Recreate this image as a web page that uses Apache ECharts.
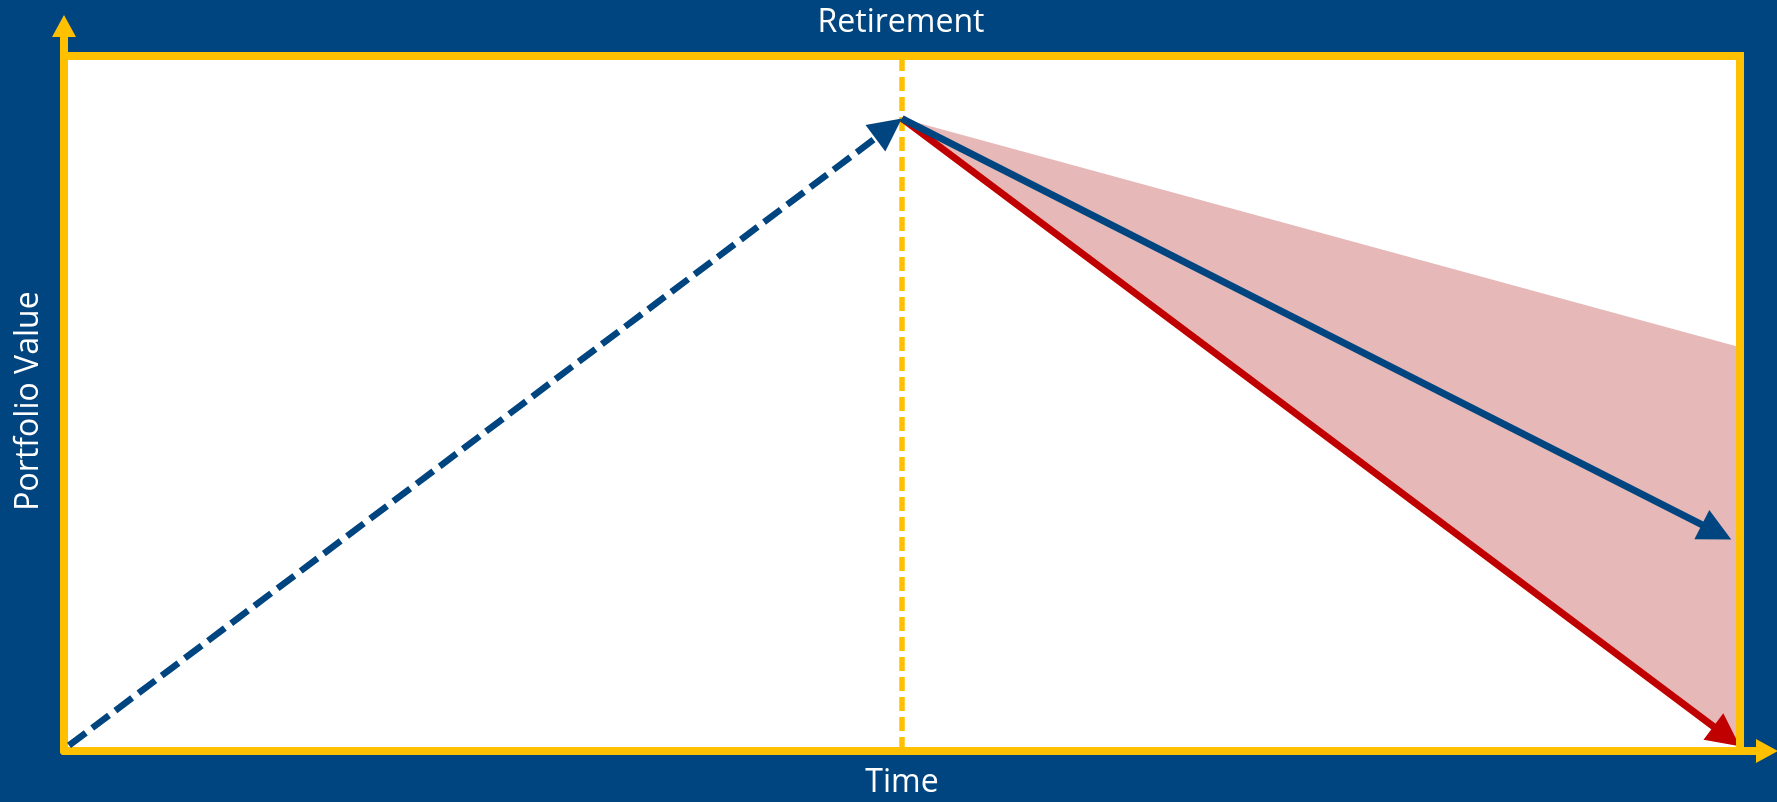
<!DOCTYPE html>
<html><head><meta charset="utf-8">
<script src="https://cdn.jsdelivr.net/npm/echarts@6/dist/echarts.min.js"></script>
<style>html,body{margin:0;padding:0;background:#00457F;}#c{width:1777px;height:802px;}</style>
</head><body><div id="c"></div>
<script>
// ---- data (chart units: time 0..100, value 0..100) ----
const retirementLine = [[50, 0], [50, 100]];
const accumulationPath = [[0.3, 0.8], [49.2, 89.6]];
const expectedPath = [[50, 91], [98.6, 31.5]];
const adversePath = [[50, 91], [99.2, 2.1]];
const rangeUpper = [[50, 91], [100, 58.1]];
const rangeLower = [[50, 91], [100, 0.7]];
const framePath = [[0, 100], [100, 100], [100, 0]];
const plotArea = [[0, 0], [100, 100]];
const axisTitles = ['Time', 'Portfolio Value'];
const eventTitles = ['Retirement'];

const NAVY = '#00457F', YELLOW = '#FFC000', RED = '#C00000', PINK = '#E6B8B7';
const FONT = '"Open Sans", sans-serif';

const chart = echarts.init(document.getElementById('c'), null, {renderer: 'canvas'});
const bandPolygon = rangeUpper.concat(rangeLower.slice().reverse());

const option = {
  backgroundColor: NAVY,
  animation: false,
  grid: {left: 64, right: 10, top: 26, bottom: 51, containLabel: false},
  xAxis: {
    type: 'value', min: 0, max: 101.61,
    axisLine: {show: true, symbol: ['none', 'triangle'], symbolSize: [24, 22],
      lineStyle: {color: YELLOW, width: 8, cap: 'round'}},
    axisTick: {show: false}, axisLabel: {show: false}, splitLine: {show: false}
  },
  yAxis: {
    type: 'value', min: 0, max: 104.32,
    axisLine: {show: true, symbol: ['none', 'triangle'], symbolSize: [24, 22],
      lineStyle: {color: YELLOW, width: 8, cap: 'round'}},
    axisTick: {show: false}, axisLabel: {show: false}, splitLine: {show: false}
  },
  graphic: [
    {type: 'text', x: 901, y: 22.5, z: 100,
      style: {text: eventTitles[0], fill: '#fff', font: '32px ' + FONT, textAlign: 'center', textVerticalAlign: 'middle'}},
    {type: 'text', x: 902, y: 783, z: 100,
      style: {text: axisTitles[0], fill: '#fff', font: '32px ' + FONT, textAlign: 'center', textVerticalAlign: 'middle'}},
    {type: 'text', x: 28.5, y: 401, rotation: Math.PI / 2, z: 100,
      style: {text: axisTitles[1], fill: '#fff', font: '32px ' + FONT, textAlign: 'center', textVerticalAlign: 'middle'}}
  ],
  series: [
    {type: 'custom', z: -1, silent: true, data: [0],
      renderItem: (params, api) => {
        const a = api.coord(plotArea[0]), b = api.coord(plotArea[1]);
        return {type: 'rect', shape: {x: a[0], y: b[1], width: b[0] - a[0], height: a[1] - b[1]}, style: {fill: '#FFFFFF'}};
      }},
    {type: 'custom', z: 1, silent: true, data: [0],
      renderItem: (params, api) => ({type: 'polygon', shape: {points: bandPolygon.map(p => api.coord(p))}, style: {fill: PINK}})},
    {type: 'lines', coordinateSystem: 'cartesian2d', z: 2, silent: true,
      data: [{coords: retirementLine}], symbol: ['none', 'none'],
      lineStyle: {color: YELLOW, width: 5.5, type: [14, 6], opacity: 1, curveness: 0}},
    {type: 'lines', coordinateSystem: 'cartesian2d', z: 3, silent: true,
      data: [{coords: adversePath}], symbol: ['none', 'triangle'], symbolSize: 33,
      lineStyle: {color: RED, width: 7, opacity: 1, curveness: 0}},
    {type: 'lines', coordinateSystem: 'cartesian2d', z: 4, silent: true,
      data: [{coords: expectedPath}], symbol: ['none', 'triangle'], symbolSize: 33,
      lineStyle: {color: NAVY, width: 7, opacity: 1, curveness: 0}},
    {type: 'lines', coordinateSystem: 'cartesian2d', z: 4, silent: true,
      data: [{coords: accumulationPath}], symbol: ['none', 'triangle'], symbolSize: 33,
      lineStyle: {color: NAVY, width: 6.5, type: [21, 8], opacity: 1, curveness: 0}},
    {type: 'line', z: 5, silent: true, data: framePath, showSymbol: false, symbol: 'none',
      lineStyle: {color: YELLOW, width: 8, join: 'miter'}}
  ]
};
chart.setOption(option);
</script></body></html>
